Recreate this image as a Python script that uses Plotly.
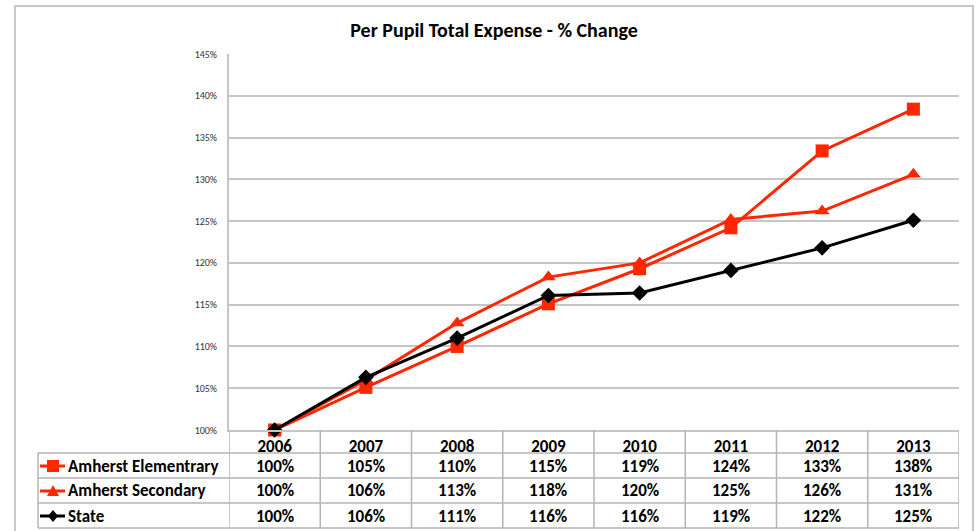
import plotly.graph_objects as go

years = ["2006", "2007", "2008", "2009", "2010", "2011", "2012", "2013"]
elementary = [100.0, 105.1, 110.0, 115.1, 119.3, 124.2, 133.4, 138.4]
secondary = [100.0, 106.0, 112.8, 118.3, 120.0, 125.2, 126.2, 130.6]
state = [100.0, 106.3, 111.0, 116.1, 116.4, 119.1, 121.8, 125.1]
y_ticks = [100, 105, 110, 115, 120, 125, 130, 135, 140, 145]

RED = "#FF2600"
GRID = "#C6C6C6"
TABLE = "#B4B4B4"
FONT = "Carlito, Lato, sans-serif"

# page geometry (px)
W, H = 978, 531
L, R, T, B = 229, 959, 54, 430


def px(x):
    return (x - L) / (R - L)


def py(y):
    return (B - y) / (B - T)


series = [
    ("Amherst Elementrary", elementary, RED, "square", 13),
    ("Amherst Secondary", secondary, RED, "triangle-up", 13),
    ("State", state, "black", "diamond", 12),
]

fig = go.Figure()
for name, vals, color, sym, size in series:
    fig.add_trace(go.Scatter(
        x=years, y=vals, mode="lines+markers", name=name,
        line=dict(color=color, width=3),
        marker=dict(symbol=sym, size=size, color=color),
        cliponaxis=False,
    ))

shapes = []
annotations = []

# outer chart frame
shapes.append(dict(type="rect", xref="paper", yref="paper",
                   x0=px(15), x1=px(973), y0=py(560), y1=py(6),
                   line=dict(color="#C8C8C8", width=2), layer="below"))

# data table grid
for yy in [453, 478, 503, 528]:
    shapes.append(dict(type="line", xref="paper", yref="paper",
                       x0=px(38), x1=px(R), y0=py(yy), y1=py(yy),
                       line=dict(color=TABLE, width=1.5)))
for k in range(len(years) + 1):
    shapes.append(dict(type="line", xref="x", yref="paper",
                       x0=k - 0.5, x1=k - 0.5, y0=py(B), y1=py(528),
                       line=dict(color=TABLE, width=1.5)))
shapes.append(dict(type="line", xref="paper", yref="paper",
                   x0=px(38), x1=px(38), y0=py(453), y1=py(528),
                   line=dict(color=TABLE, width=1.5)))

# table rows: legend glyph, label, values
row_centers = [466, 491, 516]
glyphs = {
    "square": "M -6 -6 L 6 -6 L 6 6 L -6 6 Z",
    "triangle-up": "M -6 -5 L 6 -5 L 0 6 Z",
    "diamond": "M 0 -6 L 5 0 L 0 6 L -5 0 Z",
}
for (name, vals, color, sym, size), yc in zip(series, row_centers):
    shapes.append(dict(type="line", xref="paper", yref="paper",
                       x0=px(40), x1=px(65), y0=py(yc), y1=py(yc),
                       line=dict(color=color, width=3)))
    shapes.append(dict(type="path", xref="paper", yref="paper",
                       xsizemode="pixel", ysizemode="pixel",
                       xanchor=px(53), yanchor=py(yc), path=glyphs[sym],
                       fillcolor=color, line=dict(color=color, width=0)))
    annotations.append(dict(xref="paper", yref="paper", x=px(66), y=py(yc),
                            text=f"<b>{name}</b>", showarrow=False,
                            xanchor="left", yanchor="middle",
                            font=dict(family=FONT, size=17, color="black")))
    for k, v in enumerate(vals):
        annotations.append(dict(xref="x", yref="paper", x=k, y=py(yc),
                                text=f"<b>{v:.0f}%</b>", showarrow=False,
                                xanchor="center", yanchor="middle",
                                font=dict(family=FONT, size=17, color="black")))

fig.update_layout(
    width=W, height=H,
    margin=dict(l=L, r=W - R, t=T, b=H - B),
    plot_bgcolor="white", paper_bgcolor="white",
    showlegend=False,
    title=dict(text="<b>Per Pupil Total Expense - % Change</b>",
               x=494 / W, xanchor="center", y=1 - 30 / H, yanchor="middle",
               font=dict(family=FONT, size=20, color="black")),
    shapes=shapes,
    annotations=annotations,
)
fig.update_xaxes(
    type="category", range=[-0.5, len(years) - 0.5],
    tickvals=years, ticktext=[f"<b>{y}</b>" for y in years],
    tickfont=dict(family=FONT, size=17, color="black"),
    showgrid=False, ticks="", ticklen=0,
    showline=True, linecolor=GRID, linewidth=2,
)
fig.update_yaxes(
    range=[100, 145], tickvals=y_ticks, ticktext=[f"{t}%" for t in y_ticks],
    tickfont=dict(family=FONT, size=10, color="#333333"),
    showgrid=True, gridcolor=GRID, gridwidth=2,
    showline=True, linecolor=GRID, linewidth=2,
    ticks="", ticklabelstandoff=8, zeroline=False,
)

fig.write_html(
    "out.html",
    config={"displayModeBar": False},
    post_script="document.body.style.margin='0';document.body.style.overflow='hidden';",
)
